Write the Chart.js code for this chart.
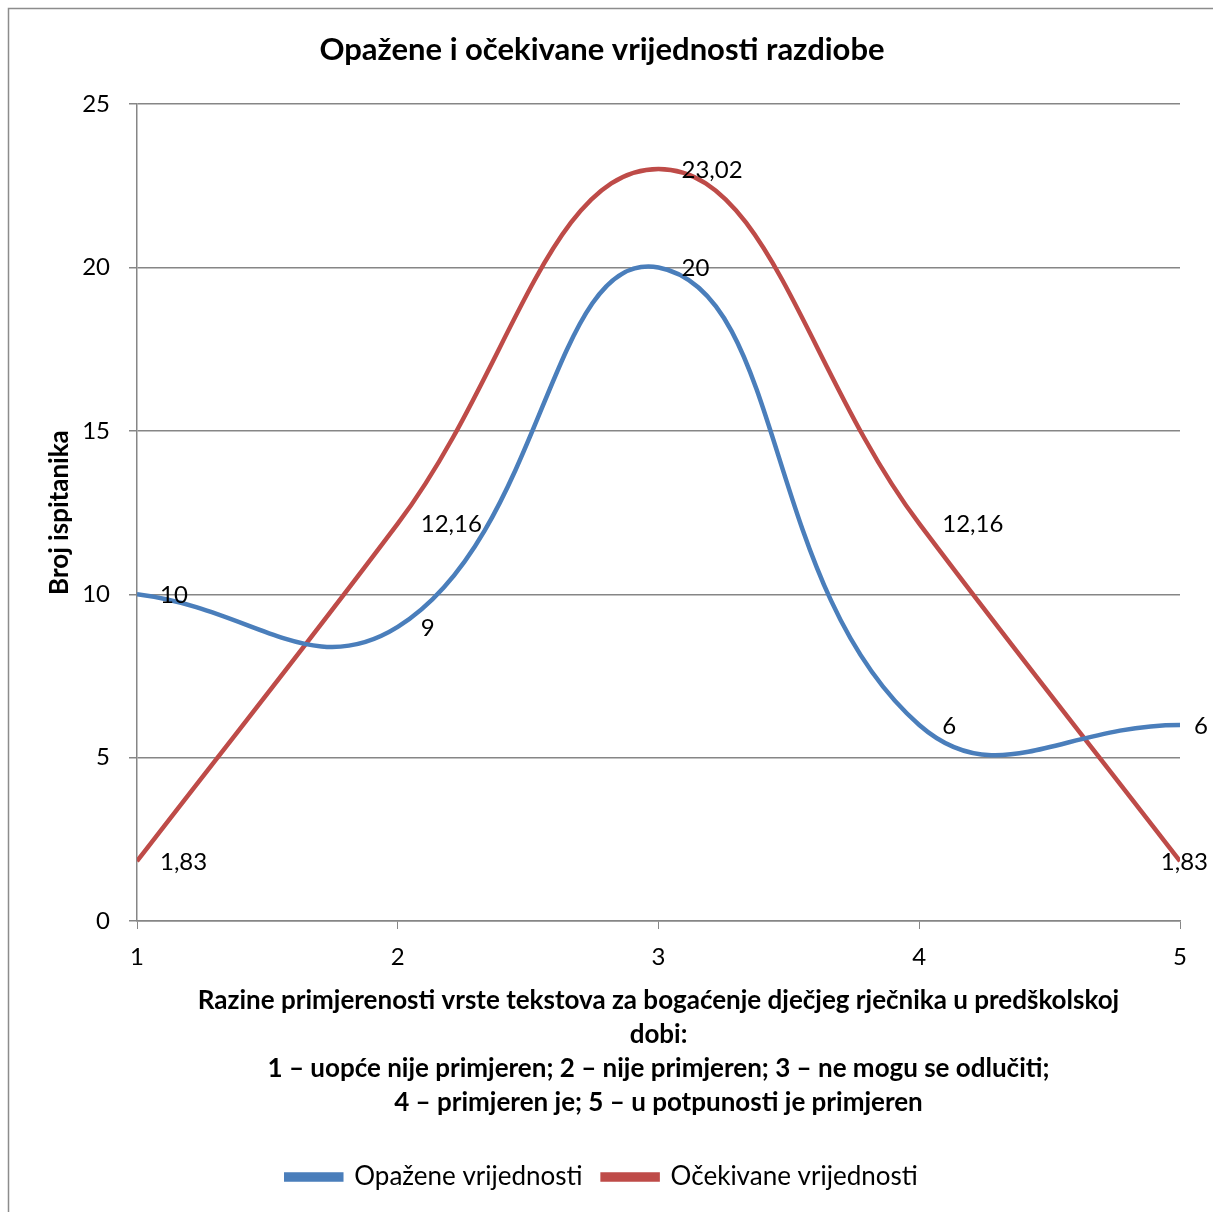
<!DOCTYPE html>
<html>
<head>
<meta charset="utf-8">
<script src="https://cdn.jsdelivr.net/npm/chart.js@4"></script>
<style>
html,body{margin:0;padding:0;background:#fff;}
#wrap{width:1213px;height:1212px;position:relative;}
</style>
</head>
<body>
<div id="wrap"><canvas id="c" width="1213" height="1212"></canvas></div>
<script>
const categories = [1, 2, 3, 4, 5];
const observed = [10, 9, 20, 6, 6];
const expected = [1.83, 12.16, 23.02, 12.16, 1.83];
const observedLabels = ['10', '9', '20', '6', '6'];
const expectedLabels = ['1,83', '12,16', '23,02', '12,16', '1,83'];
const seriesNames = ['Opažene vrijednosti', 'Očekivane vrijednosti'];
const titleText = 'Opažene i očekivane vrijednosti razdiobe';
const yTitle = 'Broj ispitanika';
const xTitle = [
  'Razine primjerenosti vrste tekstova za bogaćenje dječjeg rječnika u predškolskoj',
  'dobi:',
  '1 – uopće nije primjeren; 2 – nije primjeren; 3 – ne mogu se odlučiti;',
  '4 – primjeren je; 5 – u potpunosti je primjeren'
];

const FONT = 'Lato, "Open Sans", sans-serif';
const BLUE = '#4A7EBB';
const RED = '#BE4B48';
const GRID = '#868686';

const frame = {
  id: 'frame',
  beforeDraw(chart) {
    const ctx = chart.ctx;
    ctx.save();
    ctx.strokeStyle = '#8c8c8c';
    ctx.lineWidth = 1.5;
    ctx.beginPath();
    ctx.moveTo(8.5, 1212);
    ctx.lineTo(8.5, 8.5);
    ctx.lineTo(1213, 8.5);
    ctx.stroke();
    ctx.restore();
  }
};

const dataLabels = {
  id: 'dataLabels',
  afterDatasetsDraw(chart) {
    const ctx = chart.ctx;
    ctx.save();
    ctx.font = '24px ' + FONT;
    ctx.fillStyle = '#000';
    ctx.textBaseline = 'middle';
    ctx.textAlign = 'left';
    const lists = [observedLabels, expectedLabels];
    chart.data.datasets.forEach((ds, i) => {
      const meta = chart.getDatasetMeta(i);
      meta.data.forEach((pt, j) => {
        const txt = lists[i][j];
        const w = ctx.measureText(txt).width;
        let x = pt.x + 23;
        if (x + w > 1208) x = 1208 - w;
        ctx.fillText(txt, x, pt.y + 1);
      });
    });
    ctx.restore();
  }
};

new Chart(document.getElementById('c'), {
  type: 'line',
  data: {
    datasets: [
      {
        label: seriesNames[0],
        data: categories.map((c, i) => ({x: c, y: observed[i]})),
        borderColor: BLUE,
        backgroundColor: BLUE,
        borderWidth: 4.5,
        pointRadius: 0,
        tension: 0.45,
        fill: false
      },
      {
        label: seriesNames[1],
        data: categories.map((c, i) => ({x: c, y: expected[i]})),
        borderColor: RED,
        backgroundColor: RED,
        borderWidth: 4.5,
        pointRadius: 0,
        tension: 0.42,
        fill: false
      }
    ]
  },
  options: {
    responsive: false,
    animation: false,
    devicePixelRatio: 1,
    layout: {padding: {left: 24, right: 33, top: 0, bottom: 12}},
    plugins: {
      title: {
        display: true,
        text: titleText,
        color: '#000',
        font: {family: FONT, size: 31, weight: 'bold'},
        padding: {top: 31, bottom: 36}
      },
      legend: {
        display: true,
        position: 'bottom',
        labels: {
          color: '#000',
          font: {family: FONT, size: 26},
          boxWidth: 55,
          boxHeight: 5,
          padding: 20
        }
      },
      tooltip: {enabled: false}
    },
    scales: {
      x: {
        type: 'linear',
        min: 1,
        max: 5,
        ticks: {stepSize: 1, color: '#000', font: {family: FONT, size: 24}, padding: 14},
        grid: {display: true, drawOnChartArea: false, drawTicks: true, tickLength: 8, color: GRID},
        border: {color: GRID, width: 1.5},
        title: {
          display: true,
          text: xTitle,
          color: '#000',
          font: {family: FONT, size: 26, weight: 'bold', lineHeight: 1.31},
          padding: {top: 0, bottom: 24}
        },
        afterFit(scale) { scale.height = 223; }
      },
      y: {
        min: 0,
        max: 25,
        ticks: {stepSize: 5, color: '#000', font: {family: FONT, size: 24}, padding: 19},
        grid: {color: GRID, lineWidth: 1.5, tickLength: 8},
        border: {color: GRID, width: 1.5},
        title: {
          display: true,
          text: yTitle,
          color: '#000',
          font: {family: FONT, size: 26, weight: 'bold'},
          padding: {top: 20, bottom: 0}
        },
        afterFit(scale) { scale.width = 113; }
      }
    }
  },
  plugins: [frame, dataLabels]
});
</script>
</body>
</html>
